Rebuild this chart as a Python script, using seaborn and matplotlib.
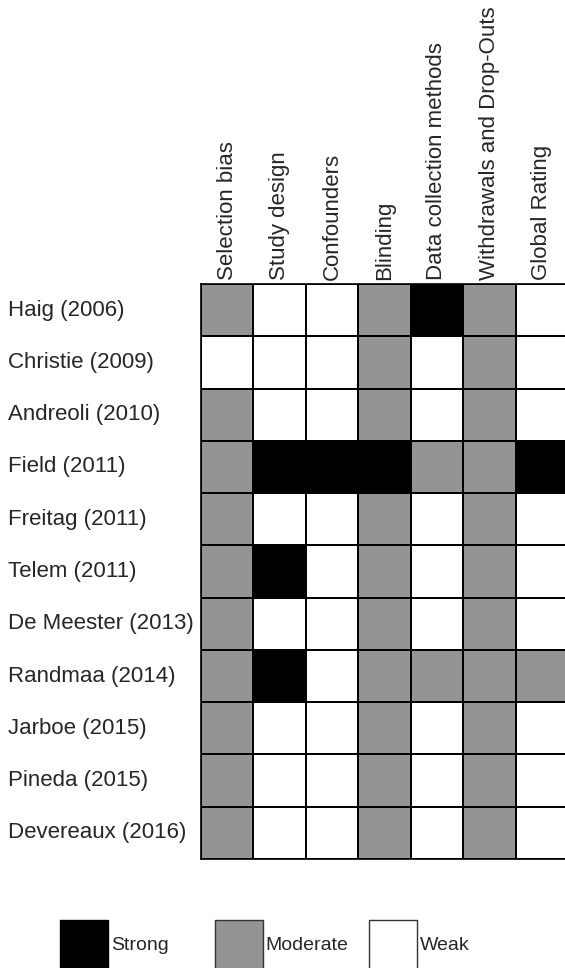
import numpy as np
import pandas as pd
import matplotlib
matplotlib.use("Agg")
import matplotlib.pyplot as plt
from matplotlib.colors import ListedColormap
from matplotlib.patches import Rectangle
import seaborn as sns

# ---- data ----
studies = ["Haig (2006)", "Christie (2009)", "Andreoli (2010)", "Field (2011)",
           "Freitag (2011)", "Telem (2011)", "De Meester (2013)", "Randmaa (2014)",
           "Jarboe (2015)", "Pineda (2015)", "Devereaux (2016)"]
criteria = ["Selection bias", "Study design", "Confounders", "Blinding",
            "Data collection methods", "Withdrawals and Drop-Outs", "Global Rating"]

selection_bias = ["M", "W", "M", "M", "M", "M", "M", "M", "M", "M", "M"]
study_design   = ["W", "W", "W", "S", "W", "S", "W", "S", "W", "W", "W"]
confounders    = ["W", "W", "W", "S", "W", "W", "W", "W", "W", "W", "W"]
blinding       = ["M", "M", "M", "S", "M", "M", "M", "M", "M", "M", "M"]
data_collection = ["S", "W", "W", "M", "W", "W", "W", "M", "W", "W", "W"]
withdrawals    = ["M", "M", "M", "M", "M", "M", "M", "M", "M", "M", "M"]
global_rating  = ["W", "W", "W", "S", "W", "W", "W", "M", "W", "W", "W"]

rating_codes = {"W": 0, "M": 1, "S": 2}
legend_labels = ["Strong", "Moderate", "Weak"]
legend_codes = ["S", "M", "W"]

# ---- styling ----
sns.set_style("white")
plt.rcParams["font.family"] = ["Liberation Sans", "DejaVu Sans"]

GRAY = "#949494"
palette = ["#ffffff", GRAY, "#000000"]

columns = [selection_bias, study_design, confounders, blinding,
           data_collection, withdrawals, global_rating]
df = pd.DataFrame({c: [rating_codes[v] for v in col] for c, col in zip(criteria, columns)},
                  index=studies)

W, H = 565, 968
fig = plt.figure(figsize=(W / 100, H / 100), dpi=100)

left, right, top, bottom = 201, 568, 284, 859
ax = fig.add_axes([left / W, 1 - bottom / H, (right - left) / W, (bottom - top) / H])

sns.heatmap(df, ax=ax, cmap=ListedColormap(palette), vmin=0, vmax=2,
            cbar=False, linewidths=1.2, linecolor="black", square=False)

for s in ax.spines.values():
    s.set_visible(True)
    s.set_color("black")
    s.set_linewidth(1.2)

ax.xaxis.tick_top()
ax.set_xticklabels(criteria, rotation=90, fontsize=16, va="bottom", ha="center")
ax.set_yticklabels(studies, rotation=0, fontsize=16, ha="left")
ax.tick_params(axis="x", length=0, pad=3)
ax.tick_params(axis="y", length=0, pad=193 * 72 / 100)
ax.set_xlabel("")
ax.set_ylabel("")

# ---- legend ----
lax = fig.add_axes([0, 0, 1, 1])
lax.set_xlim(0, W)
lax.set_ylim(H, 0)
lax.axis("off")
x0, step, bw, bh, ytop = 60, 154.5, 48, 52, 920
for i, (lab, code) in enumerate(zip(legend_labels, legend_codes)):
    x = x0 + i * step
    col = palette[rating_codes[code]]
    lax.add_patch(Rectangle((x, ytop), bw, bh, facecolor=col,
                            edgecolor="black" if code == "S" else "#333333",
                            linewidth=1.0))
    lax.text(x + bw + 3, ytop + 25, lab, fontsize=14, va="center", ha="left")

fig.savefig("out.png", dpi=100)
